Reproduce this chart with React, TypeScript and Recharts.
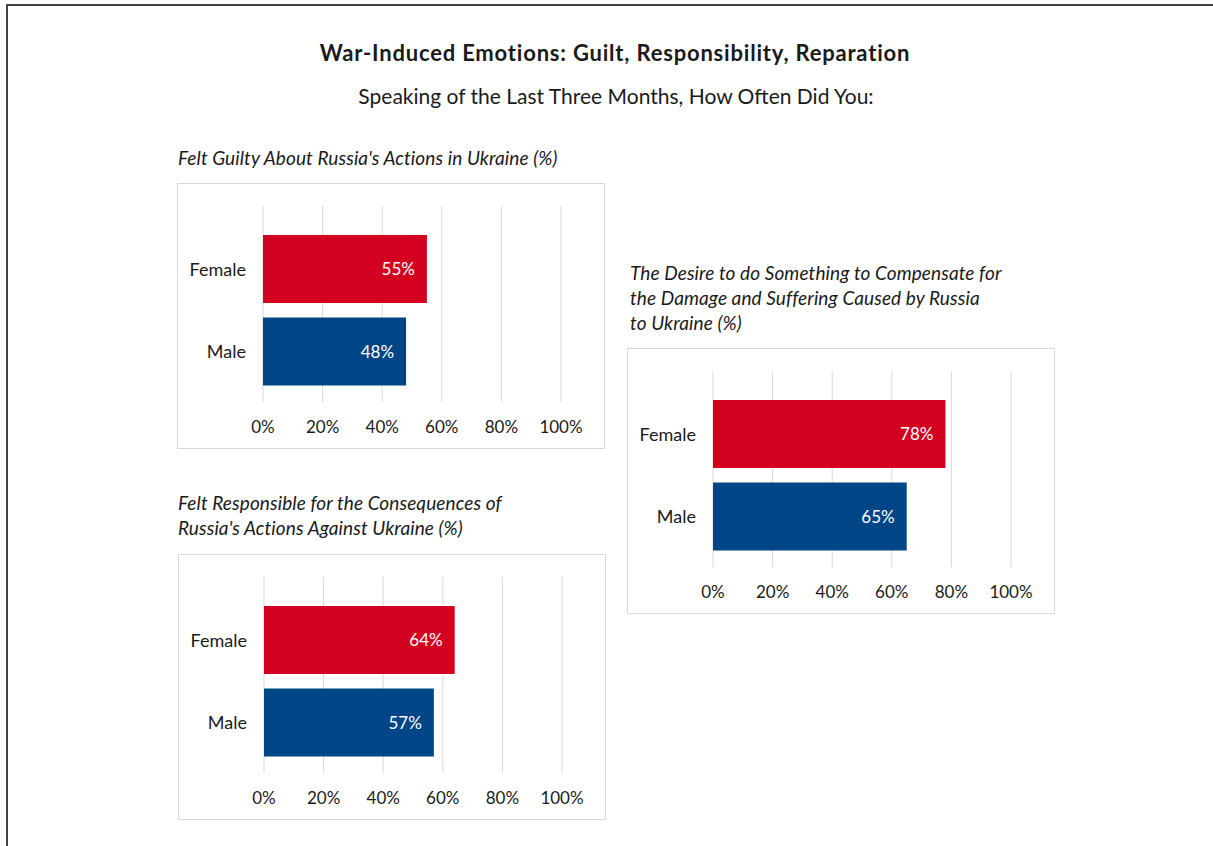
import React from "react";
import { BarChart, Bar, XAxis, YAxis, CartesianGrid, Cell, LabelList } from "recharts";

const categories = ["Female", "Male"];
const guiltyValues = [55, 48];
const responsibleValues = [64, 57];
const compensateValues = [78, 65];
const xTicks = [0, 20, 40, 60, 80, 100];
const barColors = ["#D40020", "#004586"];

const FONT = "Lato, 'Open Sans', sans-serif";
const TEXT = "#1a1a1a";

function Panel({ left, top, values }: { left: number; top: number; values: number[] }) {
  const data = categories.map((c, i) => ({ name: c, value: values[i] }));
  return (
    <div
      style={{
        position: "absolute",
        left,
        top,
        width: 428,
        height: 266,
        boxSizing: "border-box",
        border: "1px solid #d9d9d9",
        background: "#fff",
      }}
    >
      <div style={{ position: "absolute", left: -1, top: -1 }}>
        <BarChart
          width={428}
          height={266}
          data={data}
          layout="vertical"
          margin={{ top: 23, right: 44, bottom: 0, left: 0 }}
        >
          <CartesianGrid horizontal={false} stroke="#d9d9d9" strokeWidth={1} />
          <XAxis
            type="number"
            domain={[0, 100]}
            ticks={xTicks}
            tickFormatter={(v: number) => `${v}%`}
            axisLine={false}
            tickLine={false}
            tickSize={0}
            tickMargin={19}
            height={47}
            interval={0}
            tick={{ fill: TEXT, fontSize: 17, fontFamily: FONT }}
          />
          <YAxis
            type="category"
            dataKey="name"
            width={86}
            axisLine={false}
            tickLine={false}
            tickSize={0}
            tickMargin={17}
            padding={{ top: 22, bottom: 9 }}
            tick={{ fill: TEXT, fontSize: 18, fontFamily: FONT }}
          />
          <Bar dataKey="value" barSize={68} isAnimationActive={false}>
            {data.map((d, i) => (
              <Cell key={d.name} fill={barColors[i]} />
            ))}
            <LabelList
              dataKey="value"
              position="insideRight"
              offset={12}
              formatter={(v: number) => `${v}%`}
              fill="#ffffff"
              style={{ fontSize: 17, fontFamily: FONT, fill: "#ffffff" }}
            />
          </Bar>
        </BarChart>
      </div>
    </div>
  );
}

function PanelTitle({ left, top, lines }: { left: number; top: number; lines: string[] }) {
  return (
    <div
      style={{
        position: "absolute",
        left,
        top,
        fontFamily: FONT,
        fontStyle: "italic",
        fontSize: 19,
        letterSpacing: 0.1,
        lineHeight: "25px",
        color: TEXT,
        whiteSpace: "nowrap",
      }}
    >
      {lines.map((l) => (
        <div key={l}>{l}</div>
      ))}
    </div>
  );
}

export default function App() {
  return (
    <div
      style={{
        position: "absolute",
        left: 0,
        top: 0,
        width: 1213,
        height: 846,
        overflow: "hidden",
        background: "#fff",
      }}
    >
      <div
        style={{
          position: "absolute",
          left: 6,
          top: 4,
          width: 1400,
          height: 1000,
          borderLeft: "2px solid #444",
          borderTop: "2px solid #444",
        }}
      />
      <div
        style={{
          position: "absolute",
          left: 0,
          width: 1230,
          top: 40,
          textAlign: "center",
          fontFamily: FONT,
          fontWeight: 700,
          fontSize: 22,
          letterSpacing: 0.8,
          lineHeight: "26px",
          color: TEXT,
        }}
      >
        War-Induced Emotions: Guilt, Responsibility, Reparation
      </div>
      <div
        style={{
          position: "absolute",
          left: 0,
          width: 1232,
          top: 83,
          textAlign: "center",
          fontFamily: FONT,
          fontSize: 21,
          lineHeight: "26px",
          color: TEXT,
        }}
      >
        Speaking of the Last Three Months, How Often Did You:
      </div>

      <PanelTitle left={178} top={145} lines={["Felt Guilty About Russia's Actions in Ukraine (%)"]} />
      <Panel left={177} top={183} values={guiltyValues} />

      <PanelTitle
        left={178}
        top={490}
        lines={["Felt Responsible for the Consequences of", "Russia's Actions Against Ukraine (%)"]}
      />
      <Panel left={178} top={554} values={responsibleValues} />

      <PanelTitle
        left={630}
        top={260}
        lines={[
          "The Desire to do Something to Compensate for",
          "the Damage and Suffering Caused by Russia",
          "to Ukraine (%)",
        ]}
      />
      <Panel left={627} top={348} values={compensateValues} />
    </div>
  );
}
